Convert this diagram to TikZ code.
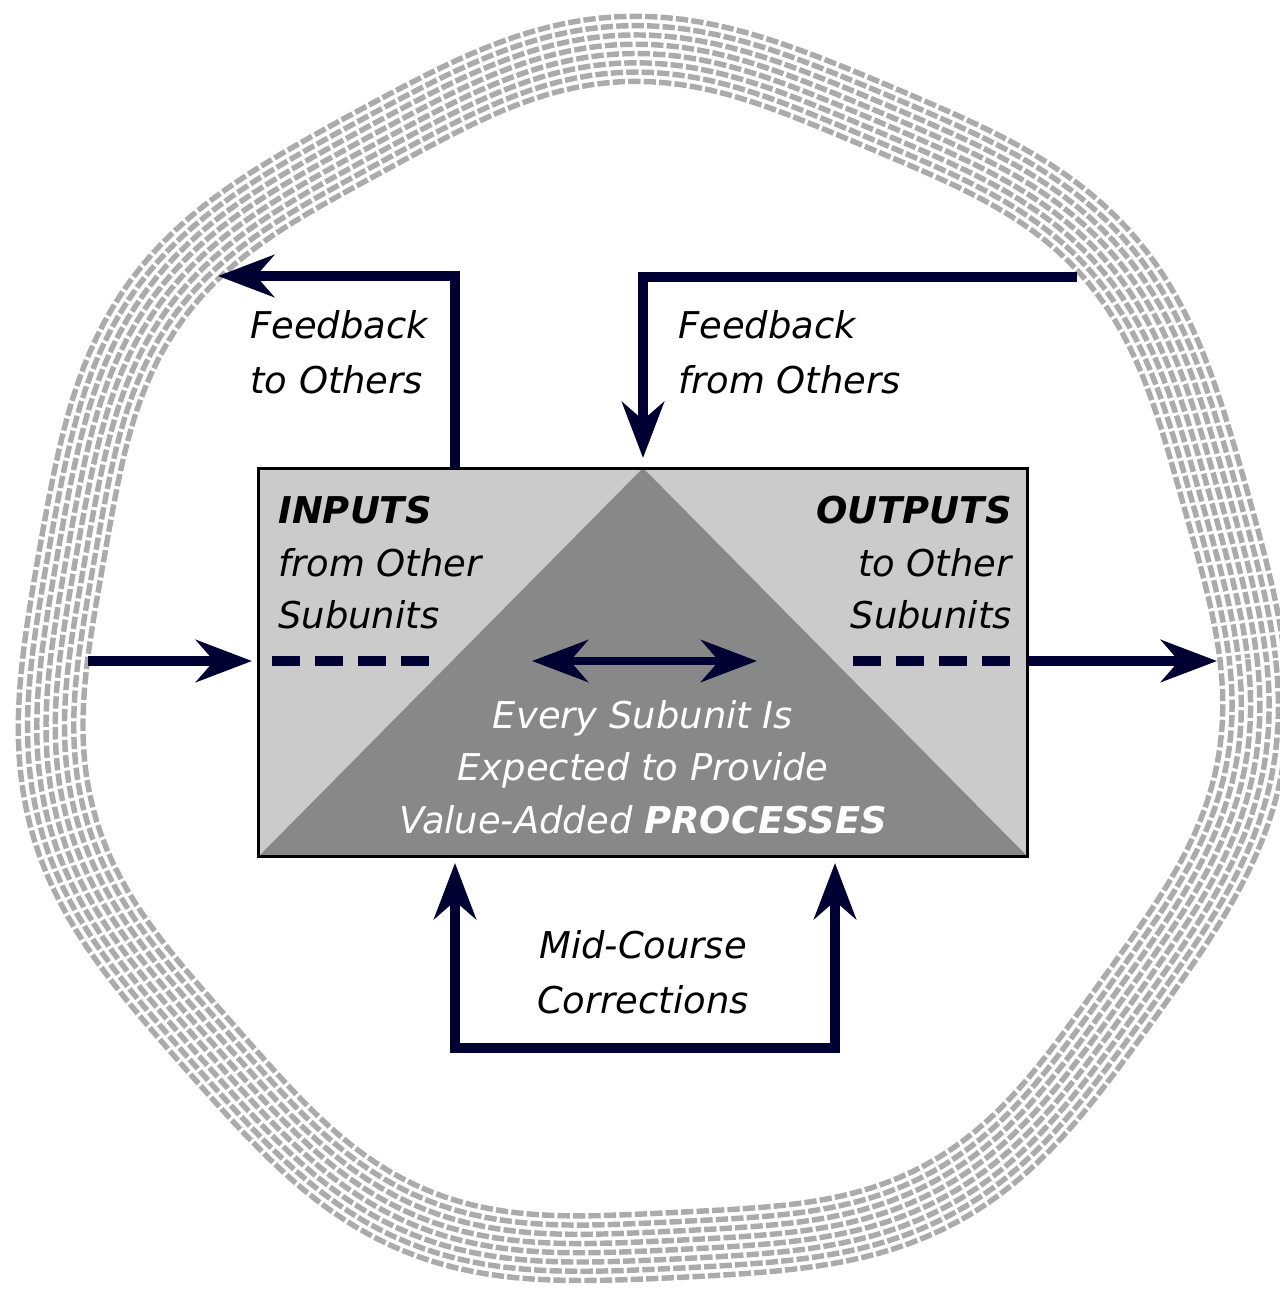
\documentclass[tikz,border=0pt]{standalone}
\usepackage{fontspec}
\setmainfont{DejaVu Sans}
\usetikzlibrary{arrows.meta,backgrounds}

\definecolor{navy}{HTML}{000033}
\definecolor{paleshade}{HTML}{CBCBCB}
\definecolor{darkshade}{HTML}{888888}
\definecolor{ringgrey}{HTML}{ABABAB}

\tikzset{
  flow/.style={draw=navy, line width=0.2cm, -{Stealth[length=1.12cm,width=0.84cm,inset=0.36cm]}},
  twoway/.style={draw=navy, line width=0.17cm, {Stealth[length=1.12cm,width=0.84cm,inset=0.36cm]}-{Stealth[length=1.12cm,width=0.84cm,inset=0.36cm]}},
  dashline/.style={draw=navy, line width=0.2cm, dash pattern=on 0.56cm off 0.3cm},
  strand/.style={draw=ringgrey, line width=3.1pt, dash pattern=on 7pt off 1.8pt},
  lbl/.style={font=\fontsize{21}{31.3}\selectfont\itshape, inner sep=0pt},
  boxlbl/.style={font=\fontsize{21}{29.9}\selectfont\itshape, inner sep=0pt}
}

\begin{document}
\begin{tikzpicture}[x=0.02cm, y=-0.02cm]
  \useasboundingbox (0,0) rectangle (1279,1305);

  % wavy rope round the whole system
  \foreach \k in {0,...,7}
    \draw[strand, dash phase=\k*2.7pt] plot[domain=0:360, samples=241]
      ({650+(566+\k*9.3+11*sin(7*\x+20))*cos(\x)}, {658+(566+\k*9.3+11*sin(7*\x+20))*sin(\x)}) -- cycle;

  % the subunit
  \node[draw=black, line width=0.06cm, outer sep=0pt, minimum width=15.4cm, minimum height=7.78cm] (box) at (643,662.5) {};
  \begin{scope}[on background layer]
    \fill[paleshade] (box.north west) rectangle (box.south east);
    \fill[darkshade] (box.south west) -- (box.north) -- (box.south east) -- cycle;
  \end{scope}

  \coordinate (fbtoStart) at (455,468);
  \coordinate (fbtoEnd) at (218,276);
  \coordinate (fbfromStart) at (1077,277);
  \coordinate (inStart) at (88,661);
  \coordinate (outEnd) at (1217,661);
  \coordinate (mcLeft) at (455,857);
  \coordinate (mcRight) at (835,857);
  \coordinate (mcBottom) at (455,1048);
  \coordinate (procLeft) at (532,661);
  \coordinate (procRight) at (757,661);

  % connectors
  \draw[flow] (fbtoStart) |- (fbtoEnd);
  \draw[flow, shorten >=0.2cm] (fbfromStart) -| (box.north);
  \draw[flow, shorten >=0.12cm] (inStart) -- (box.west |- inStart);
  \draw[flow] (box.east |- outEnd) -- (outEnd);
  \draw[twoway, line width=0.2cm, shorten <=0.12cm, shorten >=0.12cm] (mcLeft) -- (mcBottom) -| (mcRight);
  \draw[twoway] (procLeft) -- (procRight);

  \draw[dashline] (272,661) -- (430,661);
  \draw[dashline] (853,661) -- (1012,661);

  % labels
  \node[lbl, anchor=north west, align=left] (fbto) at (250,310) {Feedback\\to Others};
  \node[lbl, anchor=north west, align=left] (fbfrom) at (678,310) {Feedback\\from Others};
  \node[boxlbl, anchor=north west, align=left] (inputs) at (278,496) {{\bfseries INPUTS}\\from Other\\Subunits};
  \node[boxlbl, anchor=north east, align=right] (outputs) at (1012,496) {{\bfseries OUTPUTS}\\to Other\\Subunits};
  \node[boxlbl, anchor=north, align=center, text=white] (process) at (643,700) {Every Subunit Is\\Expected to Provide\\Value-Added {\bfseries PROCESSES}};
  \node[lbl, anchor=north, align=center] (midcourse) at (643,930) {Mid-Course\\Corrections};
\end{tikzpicture}
\end{document}
